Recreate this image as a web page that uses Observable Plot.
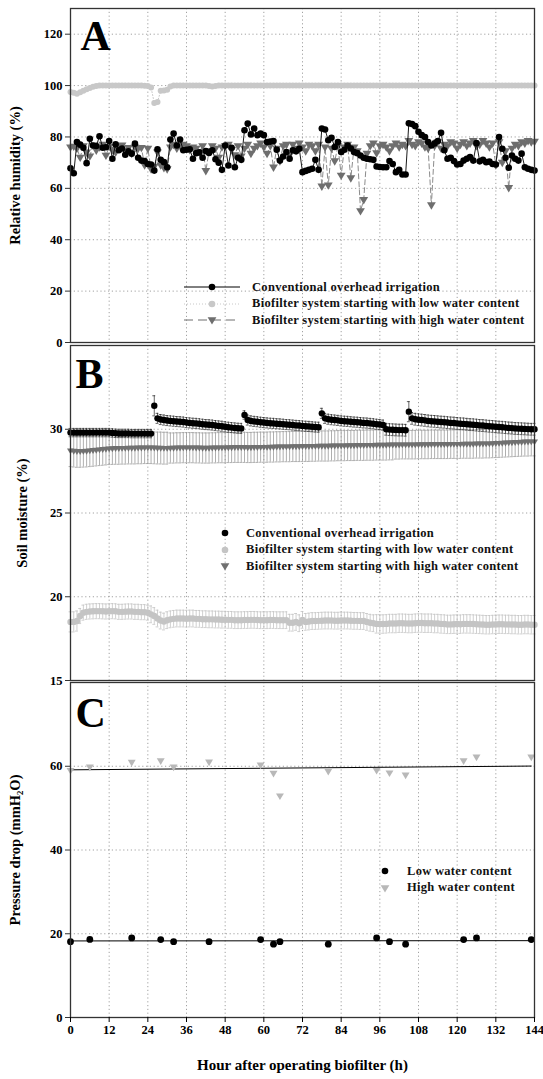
<!DOCTYPE html>
<html><head><meta charset="utf-8">
<script src="https://cdn.jsdelivr.net/npm/d3@7"></script>
<script src="https://cdn.jsdelivr.net/npm/@observablehq/plot@0.6"></script>
<style>
body{margin:0;background:#fff;}
#wrap{position:relative;width:543px;height:1079px;font-family:"Liberation Serif","Times New Roman",serif;}
#wrap svg{display:block}
.leg{position:absolute;font-weight:bold;font-size:12.5px;letter-spacing:0.3px;color:#111;white-space:nowrap;}
.row{display:flex;align-items:center;height:16.5px}
.row svg{display:inline-block!important;margin-right:0}
</style></head><body><div id="wrap"></div>
<script>
// ---------- data ----------
const hours = d3.range(0, 145);
const xTicks = [0,12,24,36,48,60,72,84,96,108,120,132,144];
const seriesNames = ["Conventional overhead irrigation","Biofilter system starting with low water content","Biofilter system starting with high water content"];
const pdNames = ["Low water content","High water content"];

// Panel A: relative humidity (%)
const rhConv = [67.8,65.9,78.0,77.0,75.8,69.8,79.3,76.7,76.5,80.3,
75.8,76.0,78.4,71.5,77.1,74.8,75.5,73.1,74.4,73.5,
77.4,71.9,70.8,70.6,69.5,69.3,66.9,75.2,71.1,70.2,
68.2,79.0,81.3,76.7,79.0,74.8,75.0,75.2,71.5,73.7,
74.0,71.9,74.5,73.8,74.8,71.3,70.0,67.2,76.7,68.9,
75.8,68.2,71.9,71.1,82.6,85.2,81.0,83.3,80.7,81.3,
80.7,78.0,78.2,78.4,75.0,70.8,72.4,74.1,71.5,74.8,
74.4,75.4,66.3,66.8,67.2,67.6,71.1,67.2,83.3,82.9,
78.7,79.7,76.1,78.0,74.1,75.0,76.7,75.5,74.1,73.7,
72.8,71.9,71.5,71.3,71.1,68.5,68.3,68.2,68.2,70.6,
69.5,66.3,67.2,65.4,65.4,85.3,85.0,84.2,82.0,80.7,
80.0,78.0,76.7,77.5,78.4,81.6,74.8,71.5,71.9,70.6,
69.3,69.5,70.8,71.5,72.2,70.8,77.6,70.5,71.1,70.2,
70.4,69.5,69.3,80.0,75.4,71.9,68.0,72.8,71.5,70.8,
73.5,68.2,67.6,67.2,66.9];
const rhLow = [97.5,97.2,96.8,97.4,98.0,98.6,99.1,99.5,99.8,100,
100,100,100,100,100,100,100,100,100,100,
100,100,100,99.9,99.8,99.3,93.2,93.6,98.0,98.1,
98.4,99.6,100,100,100,100,100,100,100,100,
100,100,100,99.8,99.6,99.8,100,100,100,100,
100,100,100,100,100,100,100,100,100,100,
100,100,100,100,100,100,100,100,100,100,
100,100,100,100,100,100,100,100,100,100,
100,100,100,100,100,100,100,100,100,100,
100,100,100,100,100,100,100,100,100,100,
100,100,100,100,100,100,100,100,100,100,
100,100,100,100,100,100,100,100,100,100,
100,100,100,100,100,100,100,100,100,100,
100,100,100,100,100,100,100,100,100,100,
100,100,100,100,100];
const rhHigh = [76.0,76.3,75.5,72.0,76.5,74.0,72.5,76.8,74.8,76.0,
77.0,72.8,76.2,75.0,74.0,76.5,76.8,74.5,75.8,73.5,
76.0,75.5,75.8,69.0,75.5,67.5,68.5,74.0,69.0,68.0,
67.5,76.0,77.0,75.5,76.5,77.0,76.5,75.0,76.0,75.5,
74.0,76.5,66.8,74.5,76.5,75.5,72.0,76.0,76.5,77.0,
75.0,73.0,76.5,72.5,75.5,77.0,73.5,75.5,76.5,77.5,
76.0,73.5,76.5,68.2,75.5,70.6,76.5,77.0,73.0,77.0,
75.5,77.5,76.0,74.5,77.0,76.5,74.5,77.0,60.8,76.0,
61.2,75.5,70.6,76.5,65.0,76.0,77.0,64.0,76.0,74.5,
51.2,55.5,73.5,76.5,77.5,73.7,76.5,77.0,76.0,74.5,
76.5,77.5,76.0,77.0,76.5,78.5,77.0,76.5,78.0,77.5,
76.0,75.5,53.5,76.5,78.0,75.5,77.0,76.5,78.0,77.5,
75.5,77.0,78.0,76.5,77.5,78.5,76.5,77.0,78.5,77.5,
76.0,77.5,69.0,78.0,70.0,74.5,60.2,75.5,77.0,76.5,
78.0,77.5,78.5,78.0,78.2];

// Panel B: soil moisture (%) and error bars
const smConv = [29.8,29.8,29.8,29.8,29.8,29.8,29.8,29.8,29.8,29.8,
29.8,29.8,29.8,29.78,29.76,29.75,29.75,29.75,29.75,29.74,
29.74,29.74,29.74,29.74,29.74,29.74,
31.4,
30.65,30.58,30.55,30.52,30.5,30.48,30.46,30.45,30.43,30.4,30.38,30.36,30.35,30.33,30.3,30.28,30.27,30.25,30.22,30.2,30.18,30.15,30.12,30.1,30.08,30.06,30.05,
30.85,
30.55,30.5,30.47,30.45,30.42,30.4,30.38,30.36,30.35,30.33,30.32,30.3,30.28,30.27,30.25,30.23,30.22,30.2,30.18,30.17,30.15,30.13,30.12,
30.95,
30.65,30.6,30.57,30.55,30.53,30.5,30.48,30.47,30.45,30.43,30.42,30.4,30.38,30.37,30.35,30.33,30.3,30.28,30.25,
30.0,29.98,29.97,29.96,29.95,29.95,29.94,
31.05,
30.65,30.6,30.57,30.55,30.53,30.5,30.48,30.47,30.45,30.43,30.42,30.4,30.38,30.37,30.35,30.33,30.32,30.3,30.28,30.27,30.25,30.23,30.22,30.2,30.18,30.17,30.15,30.13,30.12,30.1,30.08,30.07,30.05,30.04,30.03,30.02,30.01,30.0,30.0];
const smConvErr = [0.25,0.25,0.25,0.25,0.25,0.25,0.25,0.25,0.25,0.25,
0.25,0.25,0.25,0.25,0.25,0.25,0.25,0.25,0.25,0.25,
0.25,0.25,0.25,0.25,0.25,0.25,
0.6,
0.3,0.3,0.3,0.3,0.3,0.3,0.3,0.3,0.3,0.3,0.3,0.3,0.3,0.3,0.3,0.3,0.3,0.3,0.3,0.3,0.3,0.3,0.3,0.3,0.3,0.3,0.3,
0.25,
0.3,0.3,0.3,0.3,0.3,0.3,0.3,0.3,0.3,0.3,0.3,0.3,0.3,0.3,0.3,0.3,0.3,0.3,0.3,0.3,0.3,0.3,0.3,
0.3,
0.3,0.3,0.3,0.3,0.3,0.3,0.3,0.3,0.3,0.3,0.3,0.3,0.3,0.3,0.3,0.3,0.3,0.3,0.3,
0.35,0.35,0.35,0.35,0.35,0.35,0.35,
0.6,
0.35,0.35,0.35,0.35,0.35,0.35,0.35,0.35,0.35,0.35,0.35,0.35,0.35,0.35,0.35,0.35,0.35,0.35,0.35,0.35,
0.35,0.35,0.35,0.35,0.35,0.35,0.35,0.35,0.35,0.35,0.35,0.35,0.35,0.35,0.35,0.35,0.35,0.35,0.35];
const smLow = [18.5,18.5,18.55,18.85,19.05,19.1,
19.12,19.13,19.14,19.14,19.13,19.12,19.13,19.14,19.13,19.1,19.1,19.11,19.12,19.12,19.1,19.1,19.08,19.08,19.05,
18.95,18.85,18.7,18.58,18.52,18.6,
18.65,18.68,18.7,18.7,18.7,18.69,18.7,18.7,18.68,18.68,18.66,18.66,18.65,18.65,18.64,18.64,18.63,18.63,
18.62,18.62,18.6,18.6,18.6,18.61,18.61,18.62,18.62,18.61,18.6,18.6,18.6,18.61,18.61,18.6,18.6,18.6,18.6,
18.45,18.45,18.5,18.42,
18.62,
18.5,18.52,18.55,18.55,18.56,18.57,18.58,18.58,18.58,18.57,18.57,18.58,18.58,18.58,18.57,18.56,18.56,18.55,18.55,18.5,18.45,18.42,
18.38,18.38,18.37,18.38,18.4,18.4,18.4,18.42,18.42,18.41,18.4,18.4,18.42,18.43,18.43,18.42,18.42,18.42,18.4,18.4,18.38,18.37,18.35,18.35,18.36,18.37,
18.36,18.38,18.38,18.38,18.37,18.36,18.35,18.34,18.33,18.33,18.34,18.35,18.36,18.36,18.35,18.35,18.34,18.34,18.33,18.33,18.34,18.34,18.33,18.33];
const smLowErr = [0.6,0.6,0.6,
0.45,0.45,0.45,0.45,0.45,0.45,0.45,0.45,0.45,0.45,0.45,0.45,0.45,0.45,0.45,0.45,0.45,0.45,0.45,0.45,0.45,0.45,
0.5,0.5,0.5,0.5,0.5,0.5,0.5,0.5,0.5,0.5,0.5,0.5,0.5,0.5,0.5,0.5,0.5,0.5,0.5,0.5,
0.5,0.5,0.5,0.5,0.5,0.5,0.5,0.5,0.5,0.5,0.5,0.5,0.5,0.5,0.5,0.5,0.5,0.5,0.5,0.5,
0.5,0.5,0.5,0.5,0.5,0.5,0.5,0.5,0.5,0.5,0.5,0.5,0.5,0.5,0.5,0.5,0.5,0.5,0.5,0.5,
0.5,0.5,0.5,0.5,0.5,0.5,0.5,0.5,0.5,0.5,
0.55,0.55,0.55,0.55,0.55,0.55,0.55,0.55,0.55,0.55,0.55,0.55,0.55,0.55,0.55,0.55,0.55,0.55,0.55,0.55,
0.55,0.55,0.55,0.55,0.55,0.55,0.55,0.55,0.55,0.55,0.55,0.55,0.55,0.55,0.55,0.55,0.55,0.55,0.55,0.55,
0.55,0.55,0.55,0.55,0.55,0.55,0.55,0.55,0.55,0.55];
const smHigh = [28.72,28.7,28.68,28.68,28.69,28.7,28.72,28.74,28.76,28.78,28.8,28.82,28.84,
28.85,28.86,28.86,28.87,28.87,28.88,28.88,28.88,28.89,28.89,28.9,28.9,28.9,28.89,28.88,28.88,28.87,28.87,28.88,28.88,
28.89,28.89,28.9,28.9,28.9,28.9,28.89,28.89,28.88,28.88,28.88,28.89,28.89,28.9,28.9,28.9,28.91,28.91,28.92,28.92,
28.92,28.92,28.91,28.91,28.92,28.92,28.93,28.93,
28.93,28.94,28.94,28.95,28.95,28.96,28.96,28.96,28.97,28.97,28.97,28.98,28.98,28.98,28.99,28.99,29.0,29.0,29.0,29.0,
29.01,29.01,29.02,29.02,29.02,29.03,29.03,29.03,29.04,29.04,29.04,29.05,29.05,29.05,29.06,29.06,
29.06,29.06,29.07,29.07,29.07,29.07,29.08,29.08,29.08,29.08,29.08,29.09,29.09,29.09,29.09,29.1,29.1,29.1,29.1,29.1,
29.1,29.11,29.11,29.11,29.11,29.12,29.12,29.12,29.12,29.13,29.13,29.13,29.14,29.14,
29.15,29.16,29.17,29.18,29.19,29.2,29.21,29.22,29.23,29.24,29.25,29.25,29.26,29.26];
const smHighErr = [0.95,0.95,0.95,0.95,0.95,0.95,0.95,0.95,0.95,0.95,
0.95,0.95,0.95,0.95,0.95,0.95,0.95,0.95,0.95,0.95,
0.95,0.95,0.95,0.95,0.95,0.95,0.95,0.95,0.95,0.95,0.95,
0.9,0.9,0.9,0.9,0.9,0.9,0.9,0.9,0.9,0.9,0.9,0.9,0.9,0.9,0.9,0.9,0.9,0.9,0.9,0.9,
0.9,0.9,0.9,0.9,0.9,0.9,0.9,0.9,0.9,0.9,0.9,0.9,0.9,0.9,0.9,0.9,0.9,0.9,0.9,0.9,
0.9,0.9,0.9,0.9,0.9,0.9,0.9,0.9,0.9,0.9,0.9,0.9,0.9,0.9,0.9,0.9,0.9,0.9,0.9,0.9,
0.9,0.9,0.9,0.9,0.9,0.9,0.9,0.9,0.9,0.9,
0.85,0.85,0.85,0.85,0.85,0.85,0.85,0.85,0.85,0.85,0.85,0.85,0.85,0.85,0.85,0.85,0.85,0.85,0.85,0.85,
0.85,0.85,0.85,0.85,0.85,0.85,0.85,0.85,0.85,0.85,0.85,0.85,0.85,0.85,0.85,0.85,0.85,0.85,0.85,0.85,
0.85,0.85,0.85,0.85];

// Panel C: pressure drop (mmH2O)
const pdHours = [0,6,19,28,32,43,59,63,65,80,95,99,104,122,126,143];
const pdLow = [18.1,18.65,19.0,18.6,18.1,18.1,18.6,17.5,18.1,17.5,19.0,18.1,17.5,18.6,19.0,18.6];
const pdHigh = [59.0,59.8,60.95,61.3,59.8,61.0,60.3,58.3,52.9,58.8,59.0,58.4,57.9,61.3,62.2,62.2];

// ---------- build ----------
const rowsOf = (v, e) => hours.map((h, i) => ({h, v: v[i], e: e ? e[i] : 0}));
const A = {conv: rowsOf(rhConv), low: rowsOf(rhLow), high: rowsOf(rhHigh)};
const B = {conv: rowsOf(smConv, smConvErr), low: rowsOf(smLow, smLowErr), high: rowsOf(smHigh, smHighErr)};
const C = {low: pdHours.map((h,i)=>({h, v: pdLow[i]})), high: pdHours.map((h,i)=>({h, v: pdHigh[i]}))};

const triDown = {draw(ctx, size){ const s = Math.sqrt(size/Math.PI); ctx.moveTo(-s*1.1,-s*0.7); ctx.lineTo(s*1.1,-s*0.7); ctx.lineTo(0,s*1.15); ctx.closePath(); }};

const FONT = "Liberation Serif, Times New Roman, serif";
const gridStyle = {stroke:"#8a8a8a", strokeOpacity:1, strokeWidth:0.8, strokeDasharray:"1.2,2.6"};

function panel({height, marginTop, marginBottom, yDomain, yTicks, yTitle, titleDx, letter, letterDx, letterDy, marks, showX}) {
  const m = [
    Plot.gridX(xTicks, gridStyle),
    Plot.gridY(yTicks, gridStyle),
    ...marks,
    Plot.frame({stroke:"#333", strokeWidth:1.3}),
    Plot.axisY(yTicks, {tickSize:5, tickPadding:3, label:null, fontSize:12.5, fontWeight:"bold", stroke:"#333"}),
    Plot.text([yTitle], {frameAnchor:"left", dx:titleDx, rotate:-90, textAnchor:"middle", lineAnchor:"middle", fontSize:14.5, fontWeight:"bold", fill:"#000"}),
    Plot.text([letter], {frameAnchor:"top-left", dx:letterDx, dy:letterDy, fontSize:42, fontWeight:"bold", textAnchor:"start", lineAnchor:"middle", fill:"#000"})
  ];
  if (showX) {
    m.push(Plot.axisX(xTicks, {tickSize:5, tickPadding:3, label:null, fontSize:12.5, fontWeight:"bold"}));
    m.push(Plot.text(["Hour after operating biofilter (h)"], {frameAnchor:"bottom", dy:48, lineAnchor:"middle", fontSize:15, fontWeight:"bold", fill:"#000"}));
  }
  return Plot.plot({
    width:543, height, marginLeft:70, marginRight:9, marginTop, marginBottom,
    x:{domain:[0,144], axis: showX ? undefined : null},
    y:{domain:yDomain},
    style:{fontFamily:FONT, color:"#000", background:"white", overflow:"visible"},
    marks:m
  });
}

function errMarks(data, color, sw) {
  return [
    Plot.ruleX(data, {x:"h", y1:d=>d.v-d.e, y2:d=>d.v+d.e, stroke:color, strokeWidth:sw}),
    Plot.ruleY(data, {y:d=>d.v+d.e, x1:d=>d.h-0.45, x2:d=>d.h+0.45, stroke:color, strokeWidth:sw}),
    Plot.ruleY(data, {y:d=>d.v-d.e, x1:d=>d.h-0.45, x2:d=>d.h+0.45, stroke:color, strokeWidth:sw})
  ];
}

const pA = panel({height:343, marginTop:8, marginBottom:1, yDomain:[0,130], yTicks:[0,20,40,60,80,100,120],
  yTitle:"Relative humidity (%)", titleDx:-55, letter:"A", letterDx:10, letterDy:28,
  marks:[
    Plot.line(A.low, {x:"h", y:"v", stroke:"#c8c8c8", strokeWidth:1, strokeDasharray:"1,2"}),
    Plot.dot(A.low, {x:"h", y:"v", r:3, fill:"#c8c8c8"}),
    Plot.line(A.high, {x:"h", y:"v", stroke:"#8c8c8c", strokeWidth:1, strokeDasharray:"5,3"}),
    Plot.dot(A.high, {x:"h", y:"v", r:4, symbol:triDown, fill:"#6e6e6e"}),
    Plot.line(A.conv, {x:"h", y:"v", stroke:"#000", strokeWidth:0.9}),
    Plot.dot(A.conv, {x:"h", y:"v", r:3.3, fill:"#000"})
  ]});

const pB = panel({height:338, marginTop:2, marginBottom:1, yDomain:[15,35], yTicks:[15,20,25,30],
  yTitle:"Soil moisture (%)", titleDx:-48, letter:"B", letterDx:5, letterDy:29,
  marks:[
    ...errMarks(B.high, "#9a9a9a", 0.8),
    Plot.dot(B.high, {x:"h", y:"v", r:3.2, symbol:triDown, fill:"#707070"}),
    ...errMarks(B.low, "#c4c4c4", 0.8),
    Plot.dot(B.low, {x:"h", y:"v", r:3.2, fill:"#c4c4c4"}),
    ...errMarks(B.conv, "#222", 0.7),
    Plot.dot(B.conv, {x:"h", y:"v", r:3.2, fill:"#000"})
  ]});

const pC = panel({height:398, marginTop:1, marginBottom:62, yDomain:[0,80], yTicks:[0,20,40,60],
  yTitle:"Pressure drop (mmH\u2082O)", titleDx:-55, letter:"C", letterDx:5, letterDy:31, showX:true,
  marks:[
    Plot.linearRegressionY(C.high, {x:"h", y:"v", ci:0, stroke:"#000", strokeWidth:1}),
    Plot.linearRegressionY(C.low, {x:"h", y:"v", ci:0, stroke:"#000", strokeWidth:1}),
    Plot.dot(C.high, {x:"h", y:"v", r:3.6, symbol:triDown, fill:"#b8b8b8"}),
    Plot.dot(C.low, {x:"h", y:"v", r:3.4, fill:"#000"})
  ]});

const wrap = document.getElementById("wrap");
wrap.append(pA, pB, pC);

// ---------- legends (layout only) ----------
function sym(kind, color, line, dash) {
  const w = line ? 56 : 14;
  const cx = w/2;
  let s = `<svg width="${w}" height="14" viewBox="0 0 ${w} 14">`;
  if (line) s += `<line x1="0" x2="${w}" y1="7" y2="7" stroke="${color}" stroke-width="1" ${dash?`stroke-dasharray="${dash}"`:""}/>`;
  if (kind === "dot") s += `<circle cx="${cx}" cy="7" r="3.3" fill="${color}"/>`;
  else s += `<path d="M${cx-4.4},4.2 L${cx+4.4},4.2 L${cx},11.6 Z" fill="${color}"/>`;
  return s + `</svg>`;
}
function legend(left, top, items, gap) {
  const d = document.createElement("div");
  d.className = "leg";
  d.style.left = left + "px"; d.style.top = top + "px";
  d.innerHTML = items.map(it => `<div class="row">${it.sym}<span style="margin-left:${gap}px">${it.label}</span></div>`).join("");
  wrap.appendChild(d);
}
legend(184, 279, [
  {sym: sym("dot","#000",true,null), label: seriesNames[0]},
  {sym: sym("dot","#c8c8c8",true,"1,2"), label: seriesNames[1]},
  {sym: sym("tri","#6e6e6e",true,"9,5"), label: seriesNames[2]}
], 12);
legend(218, 525, [
  {sym: sym("dot","#000",false), label: seriesNames[0]},
  {sym: sym("dot","#c4c4c4",false), label: seriesNames[1]},
  {sym: sym("tri","#707070",false), label: seriesNames[2]}
], 14);
legend(378, 863, [
  {sym: sym("dot","#000",false), label: pdNames[0]},
  {sym: sym("tri","#b8b8b8",false), label: pdNames[1]}
], 15);
</script></body></html>
